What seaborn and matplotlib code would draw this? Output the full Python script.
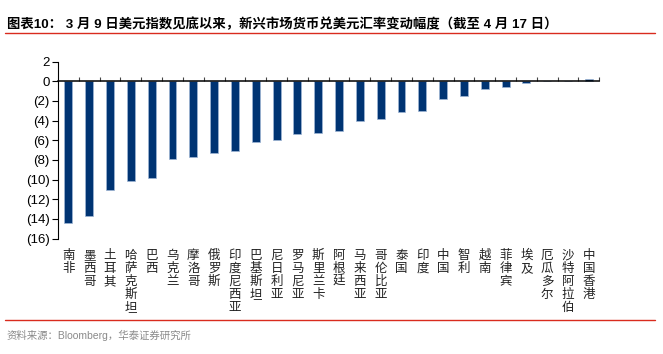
import matplotlib
matplotlib.use("Agg")
import matplotlib.pyplot as plt
import matplotlib.transforms as mtransforms
from matplotlib.lines import Line2D
import numpy as np
import pandas as pd
import seaborn as sns

categories = ["南非", "墨西哥", "土耳其", "哈萨克斯坦", "巴西", "乌克兰", "摩洛哥",
              "俄罗斯", "印度尼西亚", "巴基斯坦", "尼日利亚", "罗马尼亚", "斯里兰卡",
              "阿根廷", "马来西亚", "哥伦比亚", "泰国", "印度", "中国", "智利", "越南",
              "菲律宾", "埃及", "厄瓜多尔", "沙特阿拉伯", "中国香港"]
values = [-14.4, -13.7, -11.1, -10.1, -9.8, -7.9, -7.7,
          -7.3, -7.05, -6.2, -6.0, -5.35, -5.25,
          -5.1, -4.0, -3.8, -3.1, -3.0, -1.85, -1.45, -0.75,
          -0.6, -0.2, 0.0, -0.02, 0.2]
ytick_values = list(range(-16, 3, 2))
title = "图表10： 3 月 9 日美元指数见底以来，新兴市场货币兑美元汇率变动幅度（截至 4 月 17 日）"
source = "资料来源：Bloomberg，华泰证券研究所"

sns.set_theme(style="white")
plt.rcParams["font.family"] = ["Liberation Sans", "Noto Sans CJK SC", "DejaVu Sans"]
plt.rcParams["axes.unicode_minus"] = False

df = pd.DataFrame({"cat": categories, "val": values})

fig = plt.figure(figsize=(6.63, 3.54), dpi=100)
ax = fig.add_axes([58 / 663, 1 - 238.6 / 354, (599.3 - 58) / 663, (238.6 - 61.6) / 354])

sns.barplot(data=df, x="cat", y="val", color="#003473", width=0.38,
            edgecolor="#9fb6d6", linewidth=0.5, saturation=1, ax=ax)

ax.set_xlim(-0.5, len(categories) - 0.5)
ax.set_ylim(-16, 2)
ax.set_xlabel("")
ax.set_ylabel("")

# y axis
ax.set_yticks(ytick_values)
ax.set_yticklabels([f"({abs(v)})" if v < 0 else str(v) for v in ytick_values],
                   fontsize=9.5, family=["Liberation Sans"])
ax.tick_params(axis="y", direction="out", length=4, width=0.8, color="black",
               left=True, pad=2, labelcolor="black")

# x axis at zero with ticks between categories
ax.spines["bottom"].set_position(("data", 0))
ax.spines["bottom"].set_linewidth(1.1)
ax.spines["bottom"].set_color("black")
ax.spines["left"].set_linewidth(0.8)
ax.spines["left"].set_color("black")
ax.spines["top"].set_visible(False)
ax.spines["right"].set_visible(False)
ax.set_xticks(np.arange(0.5, len(categories), 1))
ax.set_xticklabels([""] * len(categories))
ax.tick_params(axis="x", direction="in", length=3, width=0.8, color="#444444", bottom=True)
ax.grid(False)

# vertical Chinese category labels
trans = mtransforms.blended_transform_factory(ax.transData, fig.transFigure)
for i, c in enumerate(categories):
    ax.text(i, 1 - 249 / 354, "\n".join(c), transform=trans, ha="center", va="top",
            fontsize=9, family=["Noto Sans CJK SC"], linespacing=1.0, color="#222222")

# title and decorations
fig.text(7 / 663, 1 - 28 / 354, title, ha="left", va="baseline", fontsize=9.6,
         fontweight="bold", family=["Liberation Sans", "Noto Sans CJK SC"], color="black")
fig.add_artist(Line2D([5 / 663, 655 / 663], [1 - 32.5 / 354] * 2, color="#d92b1e",
                      linewidth=1.0, transform=fig.transFigure))
fig.add_artist(Line2D([5 / 663, 655 / 663], [1 - 319.5 / 354] * 2, color="#d92b1e",
                      linewidth=1.0, transform=fig.transFigure))
fig.text(7 / 663, 1 - 335 / 354, source, ha="left", va="center", fontsize=7.5,
         family=["Liberation Sans", "Noto Sans CJK SC"], color="#8a8a8a")

fig.savefig("out.png", dpi=100)
